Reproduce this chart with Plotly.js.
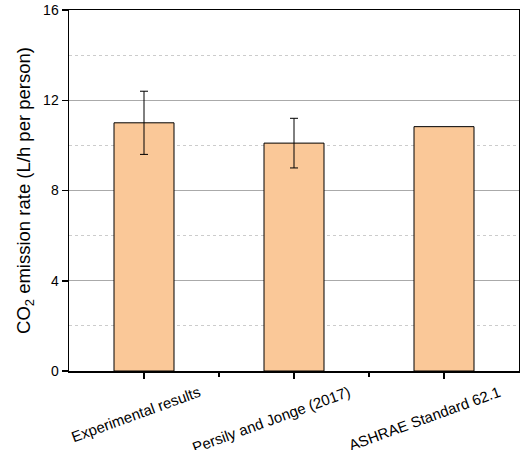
<!DOCTYPE html>
<html><head><meta charset="utf-8">
<script src="https://cdn.plot.ly/plotly-3.0.1.min.js"></script>
<style>html,body{margin:0;padding:0;background:#fff}</style>
</head><body><div id="chart" style="width:520px;height:450px"></div>
<script>
const categories = ["Experimental results", "Persily and Jonge (2017)", "ASHRAE Standard 62.1"];
const rates = [11.0, 10.1, 10.83];
const errors = [1.4, 1.1, 0];
const yTicks = [0, 4, 8, 12, 16];

const idx = categories.map((c, i) => i);
const boundaries = idx.slice(1).map(i => i - 0.5);
const withErr = idx.filter(i => errors[i] > 0);

const bars = {
  type: 'bar',
  x: idx,
  y: rates,
  width: 0.4,
  marker: {color: '#FAC898', line: {color: '#000', width: 1}},
  hoverinfo: 'skip'
};
const errs = {
  type: 'scatter', mode: 'markers',
  x: withErr,
  y: withErr.map(i => rates[i]),
  marker: {size: 0.1, opacity: 0},
  error_y: {type: 'data', array: withErr.map(i => errors[i]), visible: true, color: '#000', thickness: 1, width: 4},
  hoverinfo: 'skip'
};

const layout = {
  width: 520, height: 450,
  margin: {l: 69, r: 1, t: 10, b: 79},
  paper_bgcolor: '#fff', plot_bgcolor: '#fff',
  showlegend: false,
  font: {family: 'Liberation Sans, Arial, sans-serif', color: '#000', size: 14},
  xaxis: {
    range: [-0.5, 2.5],
    tickmode: 'array', tickvals: idx, ticktext: categories,
    tickangle: -20,
    ticks: 'outside', ticklen: 6, tickwidth: 1.5, tickcolor: '#000',
    ticklabelshift: 55,
    ticklabelstandoff: 0,
    ticklabeloverflow: 'allow',
    minor: {tickmode: 'array', tickvals: boundaries, ticks: 'outside', ticklen: 4, tickwidth: 1.5, tickcolor: '#000'},
    showline: true, linecolor: '#000', linewidth: 1.5, mirror: true,
    showgrid: false, zeroline: false,
    tickfont: {size: 15}
  },
  yaxis: {
    range: [0, 16],
    tickmode: 'array', tickvals: yTicks,
    ticks: 'outside', ticklen: 6, tickwidth: 1.5, tickcolor: '#000',
    showline: true, linecolor: '#000', linewidth: 1.5, mirror: true,
    showgrid: true, gridcolor: '#aaaaaa', gridwidth: 1,
    minor: {dtick: 2, showgrid: true, gridcolor: '#cccccc', griddash: 'dot', gridwidth: 1, ticks: ''},
    zeroline: false,
    tickfont: {size: 14},
    title: {text: 'CO<sub>2</sub> emission rate (L/h per person)', font: {size: 18.5}, standoff: 7}
  }
};
Plotly.newPlot('chart', [bars, errs], layout, {staticPlot: true, displayModeBar: false});
</script></body></html>
